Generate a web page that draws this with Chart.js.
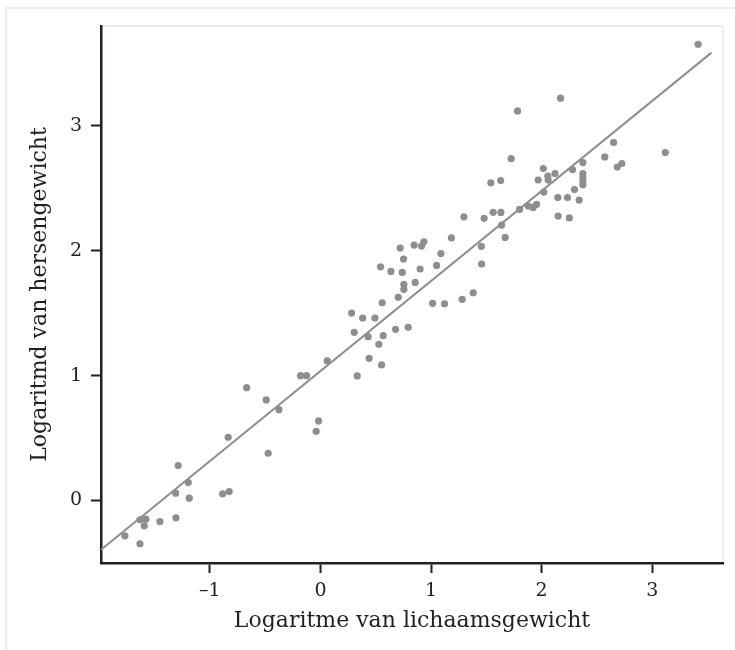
<!DOCTYPE html>
<html>
<head>
<meta charset="utf-8">
<script src="https://cdn.jsdelivr.net/npm/chart.js@4"></script>
<style>
  html, body { margin: 0; padding: 0; background: #fff; }
  #wrap { width: 735px; height: 650px; position: relative; }
</style>
</head>
<body>
<div id="wrap"><canvas id="chart" width="735" height="650"></canvas></div>
<script>
// log10 body weight (x) and log10 brain weight (y)
const bodyLog = [
  -1.769, -1.633, -1.633, -1.579, -1.594, -1.452, -1.307, -1.310, -1.187, -1.196,
  -1.287, -0.885, -0.826, -0.835, -0.473, -0.668, -0.491, -0.376, -0.039, -0.017,
  -0.180, -0.126, 0.061, 0.332, 0.440, 0.552, 0.528, 0.567, 0.431, 0.305,
  0.679, 0.793, 0.281, 0.381, 0.492, 0.558, 0.703, 0.754, 0.754, 0.856,
  1.014, 1.122, 1.281, 1.381, 1.457, 0.543, 0.637, 0.739, 0.751, 0.721,
  0.847, 0.914, 0.935, 0.901, 1.050, 1.089, 1.184, 2.171, 1.782, 1.724,
  3.118, 2.651, 2.571, 2.684, 2.725, 2.373, 2.279, 2.373, 2.373, 2.373,
  2.373, 2.015, 2.121, 2.056, 2.059, 1.968, 2.020, 2.297, 2.146, 2.234,
  2.339, 2.149, 2.250, 1.800, 1.878, 1.923, 1.954, 1.541, 1.629, 1.561,
  1.631, 1.480, 1.297, 1.638, 1.670, 1.455, 3.415
];
const brainLog = [
  -0.282, -0.346, -0.154, -0.149, -0.202, -0.168, -0.138, 0.059, 0.019, 0.144,
  0.280, 0.054, 0.072, 0.507, 0.379, 0.904, 0.806, 0.728, 0.555, 0.638,
  1.000, 1.000, 1.118, 0.998, 1.139, 1.086, 1.251, 1.320, 1.312, 1.347,
  1.371, 1.387, 1.502, 1.462, 1.462, 1.584, 1.627, 1.691, 1.731, 1.747,
  1.579, 1.576, 1.611, 1.664, 1.894, 1.872, 1.835, 1.827, 1.934, 2.022,
  2.046, 2.038, 2.072, 1.854, 1.883, 1.978, 2.104, 3.222, 3.120, 2.738,
  2.787, 2.867, 2.752, 2.670, 2.699, 2.706, 2.650, 2.619, 2.587, 2.560,
  2.528, 2.659, 2.619, 2.598, 2.566, 2.567, 2.470, 2.490, 2.426, 2.426,
  2.406, 2.278, 2.263, 2.331, 2.358, 2.347, 2.372, 2.544, 2.562, 2.308,
  2.307, 2.260, 2.272, 2.206, 2.107, 2.036, 3.654
];

// fitted line end points
const fitX = [-1.985, 3.536];
const fitY = [-0.394, 3.587];

// axis ticks
const xTicks = [-1, 0, 1, 2, 3];
const xTickLabels = ['\u20131', '0', '1', '2', '3'];
const yTicks = [0, 1, 2, 3];
const yTickLabels = ['0', '1', '2', '3'];

const xTitle = 'Logaritme van lichaamsgewicht';
const yTitle = 'Logaritmd van hersengewicht';

const dotColor = '#8e8e90';
const axisColor = '#231f20';
const serif = "'DejaVu Serif', 'Liberation Serif', serif";

// light frames around the figure and the plot area
const framePlugin = {
    id: 'frames',
    beforeDraw(chart) {
        const ctx = chart.ctx;
        const a = chart.chartArea;
        ctx.save();
        ctx.strokeStyle = '#ececec';
        ctx.lineWidth = 2;
        ctx.beginPath();
        ctx.moveTo(6, chart.height);
        ctx.lineTo(6, 8);
        ctx.lineTo(chart.width, 8);
        ctx.stroke();
        ctx.beginPath();
        ctx.moveTo(a.left, a.top);
        ctx.lineTo(a.right, a.top);
        ctx.lineTo(a.right, a.bottom);
        ctx.stroke();
        ctx.restore();
    }
};

const ctx = document.getElementById('chart').getContext('2d');
new Chart(ctx, {
    type: 'scatter',
    data: {
        datasets: [
            {
                label: 'soorten',
                data: bodyLog.map((x, i) => ({ x: x, y: brainLog[i] })),
                backgroundColor: dotColor,
                borderWidth: 0,
                pointRadius: 3.6,
                order: 2
            },
            {
                type: 'line',
                label: 'regressie',
                data: fitX.map((x, i) => ({ x: x, y: fitY[i] })),
                borderColor: dotColor,
                borderWidth: 2,
                pointRadius: 0,
                fill: false,
                order: 1
            }
        ]
    },
    options: {
        responsive: false,
        animation: false,
        layout: { padding: { top: 26, right: 12, left: 0, bottom: 0 } },
        plugins: {
            legend: { display: false },
            tooltip: { enabled: false }
        },
        scales: {
            x: {
                type: 'linear',
                min: -1.985,
                max: 3.64,
                afterFit(scale) { scale.height = 87; },
                afterBuildTicks(scale) { scale.ticks = xTicks.map(v => ({ value: v })); },
                border: { color: axisColor, width: 2.5 },
                grid: { drawOnChartArea: false, drawTicks: true, tickLength: 10, tickColor: axisColor, tickWidth: 2 },
                ticks: {
                    color: '#231f20',
                    font: { family: serif, size: 19 },
                    padding: 7,
                    maxRotation: 0,
                    callback: (v) => xTickLabels[xTicks.indexOf(v)]
                },
                title: {
                    display: true,
                    text: xTitle,
                    color: '#231f20',
                    font: { family: serif, size: 22 },
                    padding: { top: 0, bottom: 16 }
                }
            },
            y: {
                type: 'linear',
                min: -0.5,
                max: 3.8,
                afterFit(scale) { scale.width = 101; },
                afterBuildTicks(scale) { scale.ticks = yTicks.map(v => ({ value: v })); },
                border: { color: axisColor, width: 2.5 },
                grid: { drawOnChartArea: false, drawTicks: true, tickLength: 10, tickColor: axisColor, tickWidth: 2 },
                ticks: {
                    color: '#231f20',
                    font: { family: serif, size: 19 },
                    padding: 9,
                    callback: (v) => yTickLabels[yTicks.indexOf(v)]
                },
                title: {
                    display: true,
                    text: yTitle,
                    color: '#231f20',
                    font: { family: serif, size: 22 },
                    padding: { top: 27, bottom: 0 }
                }
            }
        }
    },
    plugins: [framePlugin]
});
</script>
</body>
</html>
